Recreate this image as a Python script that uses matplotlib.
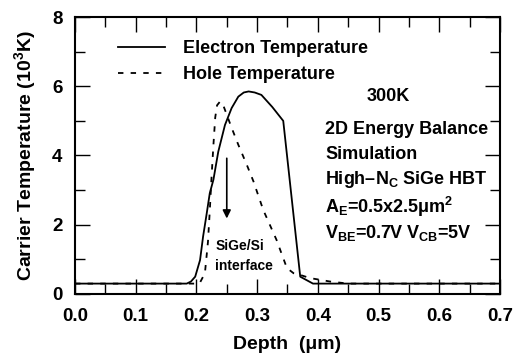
import matplotlib
matplotlib.use("Agg")
import matplotlib.pyplot as plt

plt.rcParams['font.family'] = ['Liberation Sans', 'DejaVu Sans']
plt.rcParams['font.weight'] = 'bold'
plt.rcParams['axes.labelweight'] = 'bold'
plt.rcParams['mathtext.fontset'] = 'custom'
plt.rcParams['mathtext.rm'] = 'Liberation Sans:bold'
plt.rcParams['mathtext.bf'] = 'Liberation Sans:bold'
plt.rcParams['mathtext.it'] = 'Liberation Sans:bold'

# electron temperature (10^3 K) vs depth (um)
depth_e = [0.0, 0.184, 0.191, 0.198, 0.206, 0.211, 0.217, 0.222, 0.228, 0.236,
           0.247, 0.258, 0.269, 0.278, 0.286, 0.296, 0.307, 0.325, 0.343, 0.371,
           0.392, 0.70]
temp_e = [0.3, 0.3, 0.36, 0.5, 0.98, 1.66, 2.33, 2.91, 3.3, 4.11,
          4.88, 5.37, 5.70, 5.82, 5.85, 5.82, 5.75, 5.40, 5.0, 0.5,
          0.3, 0.3]

# hole temperature
depth_h = [0.0, 0.205, 0.214, 0.219, 0.222, 0.225, 0.228, 0.231, 0.234, 0.239,
           0.244, 0.258, 0.269, 0.283, 0.294, 0.310, 0.332, 0.349, 0.360, 0.371,
           0.387, 0.420, 0.450, 0.70]
temp_h = [0.3, 0.3, 0.6, 1.5, 2.4, 3.4, 4.3, 5.1, 5.45, 5.56,
          5.46, 4.8, 4.31, 3.73, 3.25, 2.43, 1.56, 0.75, 0.6, 0.55,
          0.46, 0.36, 0.3, 0.3]

fig = plt.figure(figsize=(5.16, 3.58), dpi=100)
ax = fig.add_axes([0.1453, 0.1788, 0.8237, 0.7737])

ax.plot(depth_e, temp_e, color='black', lw=1.3, label='Electron Temperature')
ax.plot(depth_h, temp_h, color='black', lw=1.3, linestyle=(0, (3, 4)),
        label='Hole Temperature')

ax.set_xlim(0, 0.7)
ax.set_ylim(0, 8)
ax.set_xticks([0.0, 0.1, 0.2, 0.3, 0.4, 0.5, 0.6, 0.7])
ax.set_xticks([0.05, 0.15, 0.25, 0.35, 0.45, 0.55, 0.65], minor=True)
ax.set_yticks([0, 2, 4, 6, 8])
ax.set_yticks([1, 3, 5, 7], minor=True)
ax.set_xticklabels(['0.0', '0.1', '0.2', '0.3', '0.4', '0.5', '0.6', '0.7'])
ax.tick_params(which='both', direction='in', top=True, right=True, width=1.0,
               labelsize=13.5)
ax.tick_params(axis='x', pad=10)
ax.tick_params(axis='y', pad=9)
ax.tick_params(which='major', length=11)
ax.tick_params(which='minor', length=7)
for s in ax.spines.values():
    s.set_linewidth(1.5)

ax.set_xlabel('Depth  (\u03bcm)', fontsize=14, labelpad=8)
ax.set_ylabel('Carrier Temperature (10$^{3}$K)', fontsize=14, labelpad=10)

leg = ax.legend(loc='upper left', bbox_to_anchor=(0.075, 0.955), frameon=False,
                fontsize=13, handlelength=2.6, handletextpad=1.0,
                labelspacing=0.5, borderaxespad=0.2)

ax.text(0.516, 5.69, '300K', fontsize=13, ha='center', va='center')
ax.text(0.412, 4.74, '2D Energy Balance', fontsize=13, ha='left', va='center')
ax.text(0.412, 4.02, 'Simulation', fontsize=13, ha='left', va='center')
ax.text(0.412, 3.30, 'High\u2013N$_\\mathrm{C}$ SiGe HBT', fontsize=13,
        ha='left', va='center')
ax.text(0.412, 2.52, 'A$_\\mathrm{E}$=0.5x2.5\u03bcm$^\\mathrm{2}$', fontsize=13,
        ha='left', va='center')
ax.text(0.412, 1.76, 'V$_\\mathrm{BE}$=0.7V V$_\\mathrm{CB}$=5V', fontsize=13,
        ha='left', va='center')

ax.annotate('', xy=(0.250, 2.10), xytext=(0.250, 4.0),
            arrowprops=dict(arrowstyle='-|>', color='black', lw=1.2,
                            mutation_scale=12))
ax.text(0.231, 1.40, 'SiGe/Si', fontsize=10, ha='left', va='center')
ax.text(0.231, 0.82, 'interface', fontsize=10, ha='left', va='center')

fig.savefig('out.png', dpi=100)
